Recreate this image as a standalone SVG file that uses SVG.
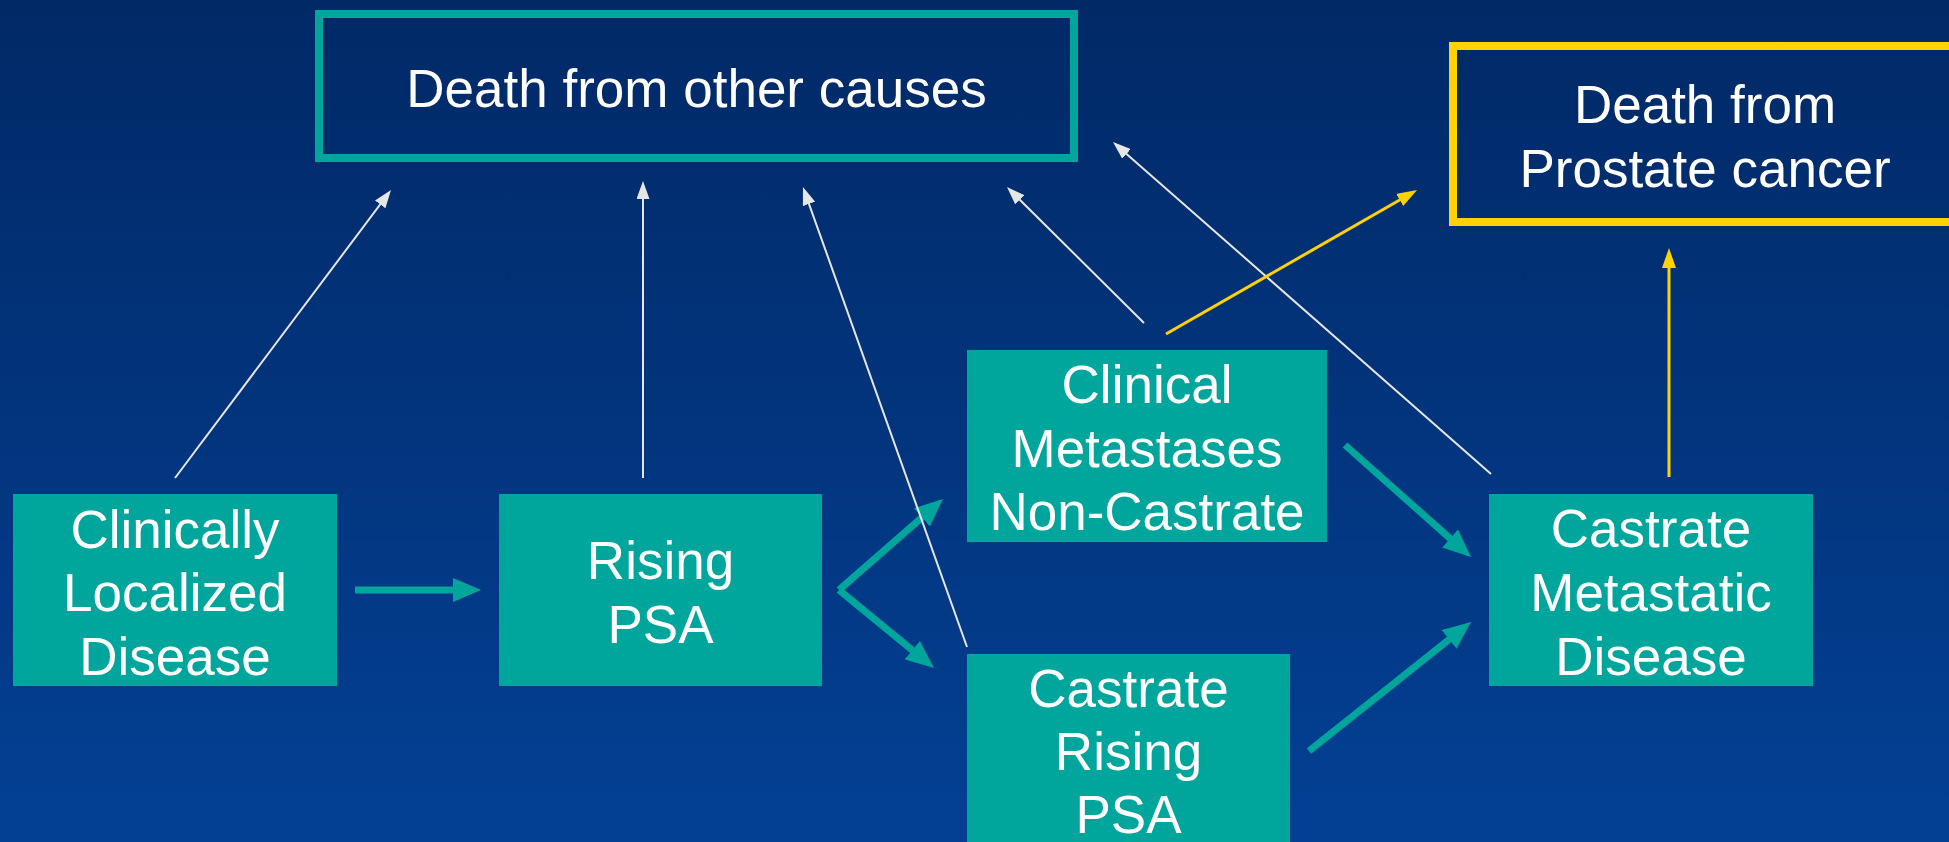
<svg xmlns="http://www.w3.org/2000/svg" width="1949" height="842" viewBox="0 0 1949 842">
<defs>
<linearGradient id="bg" x1="0" y1="0" x2="0" y2="1">
<stop offset="0" stop-color="#012966"/>
<stop offset="1" stop-color="#034094"/>
</linearGradient>
<marker id="mTeal" markerUnits="userSpaceOnUse" markerWidth="28" markerHeight="24" refX="12" refY="12" orient="auto">
<path d="M0,0 L28,12 L0,24 z" fill="#00a69c"/>
</marker>
<marker id="mWhite" markerUnits="userSpaceOnUse" markerWidth="18" markerHeight="13" refX="6" refY="6.5" orient="auto">
<path d="M0,0 L18,6.5 L0,13 z" fill="#e6e6e6"/>
</marker>
<marker id="mYellow" markerUnits="userSpaceOnUse" markerWidth="20" markerHeight="14" refX="6" refY="7" orient="auto">
<path d="M0,0 L20,7 L0,14 z" fill="#ffd200"/>
</marker>
</defs>
<style>
.node{fill:#00a69c}
.txt{font-family:"Liberation Sans",Arial,sans-serif;font-size:53px;fill:#ffffff;text-anchor:middle}
.teal{stroke:#00a69c;stroke-width:7;fill:none;marker-end:url(#mTeal)}
.white{stroke:#e6e6e6;stroke-width:2;fill:none;marker-end:url(#mWhite)}
.yellow{stroke:#ffd200;stroke-width:3;fill:none;marker-end:url(#mYellow)}
</style>
<rect x="0" y="0" width="1949" height="842" fill="url(#bg)"/>

<g id="death-other">
<rect x="319" y="14" width="755" height="144" fill="none" stroke="#00a69c" stroke-width="8"/>
<text class="txt" x="696.5" y="107">Death from other causes</text>
</g>
<g id="death-prostate">
<rect x="1453" y="46" width="520" height="176" fill="none" stroke="#ffd200" stroke-width="8"/>
<text class="txt" x="1705" y="123">Death from</text>
<text class="txt" x="1705" y="187">Prostate cancer</text>
</g>
<g id="clinically-localized">
<rect class="node" x="13" y="494" width="324" height="192"/>
<text class="txt" x="175" y="548">Clinically</text>
<text class="txt" x="175" y="611">Localized</text>
<text class="txt" x="175" y="675">Disease</text>
</g>
<g id="rising-psa">
<rect class="node" x="499" y="494" width="323" height="192"/>
<text class="txt" x="660.5" y="579">Rising</text>
<text class="txt" x="660.5" y="643">PSA</text>
</g>
<g id="clinical-metastases">
<rect class="node" x="967" y="350" width="360" height="192"/>
<text class="txt" x="1147" y="403">Clinical</text>
<text class="txt" x="1147" y="467">Metastases</text>
<text class="txt" x="1147" y="530">Non-Castrate</text>
</g>
<g id="castrate-rising-psa">
<rect class="node" x="967" y="654" width="323" height="200"/>
<text class="txt" x="1128.5" y="707">Castrate</text>
<text class="txt" x="1128.5" y="770">Rising</text>
<text class="txt" x="1128.5" y="833">PSA</text>
</g>
<g id="castrate-metastatic">
<rect class="node" x="1489" y="494" width="324" height="192"/>
<text class="txt" x="1651" y="547">Castrate</text>
<text class="txt" x="1651" y="611">Metastatic</text>
<text class="txt" x="1651" y="675">Disease</text>
</g>

<g id="connectors">
<line class="teal" x1="355" y1="590" x2="465" y2="590"/>
<line class="teal" x1="839" y1="590" x2="931" y2="509.5"/>
<line class="teal" x1="839" y1="590" x2="921.6" y2="657.8"/>
<line class="teal" x1="1345" y1="445" x2="1459" y2="546.4"/>
<line class="teal" x1="1309" y1="751" x2="1458.5" y2="632"/>
<line class="white" x1="175" y1="478" x2="383.8" y2="199.6"/>
<line class="white" x1="643" y1="478" x2="643" y2="193"/>
<line class="white" x1="967" y1="647" x2="807" y2="198.3"/>
<line class="white" x1="1144" y1="323" x2="1015.5" y2="195.5"/>
<line class="white" x1="1491" y1="474" x2="1122" y2="149.9"/>
<line class="yellow" x1="1166" y1="334" x2="1404.9" y2="197"/>
<line class="yellow" x1="1669" y1="477" x2="1669" y2="262"/>
</g>
</svg>
